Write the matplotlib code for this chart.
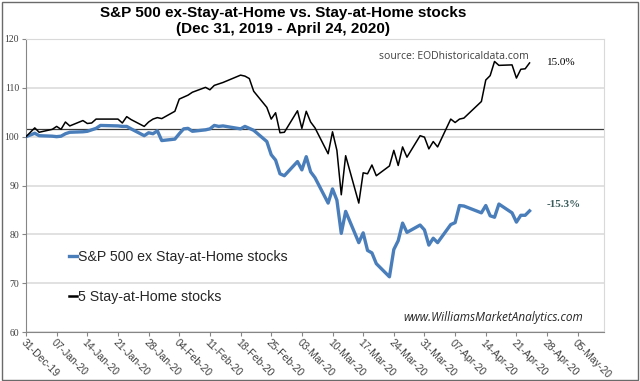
import matplotlib
matplotlib.use('Agg')
import matplotlib.pyplot as plt
import matplotlib.dates as mdates
from matplotlib.lines import Line2D
from matplotlib.patches import Rectangle
import pandas as pd

# trading days, Dec 31 2019 .. Apr 24 2020
trade_dates = ['2019-12-31',
    '2020-01-02', '2020-01-03', '2020-01-06', '2020-01-07', '2020-01-08', '2020-01-09',
    '2020-01-10', '2020-01-13', '2020-01-14', '2020-01-15', '2020-01-16', '2020-01-17',
    '2020-01-21', '2020-01-22', '2020-01-23', '2020-01-24', '2020-01-27', '2020-01-28',
    '2020-01-29', '2020-01-30', '2020-01-31',
    '2020-02-03', '2020-02-04', '2020-02-05', '2020-02-06', '2020-02-07', '2020-02-10',
    '2020-02-11', '2020-02-12', '2020-02-13', '2020-02-14', '2020-02-18', '2020-02-19',
    '2020-02-20', '2020-02-21', '2020-02-24', '2020-02-25', '2020-02-26', '2020-02-27',
    '2020-02-28',
    '2020-03-02', '2020-03-03', '2020-03-04', '2020-03-05', '2020-03-06', '2020-03-09',
    '2020-03-10', '2020-03-11', '2020-03-12', '2020-03-13', '2020-03-16', '2020-03-17',
    '2020-03-18', '2020-03-19', '2020-03-20', '2020-03-23', '2020-03-24', '2020-03-25',
    '2020-03-26', '2020-03-27', '2020-03-30', '2020-03-31',
    '2020-04-01', '2020-04-02', '2020-04-03', '2020-04-06', '2020-04-07', '2020-04-08',
    '2020-04-09', '2020-04-13', '2020-04-14', '2020-04-15', '2020-04-16', '2020-04-17',
    '2020-04-20', '2020-04-21', '2020-04-22', '2020-04-23', '2020-04-24']

sp500_ex = [100.0,
    100.7, 100.2, 100.1, 100.0, 100.1, 100.6, 100.9, 101.0, 101.1, 101.4, 101.7, 102.3,
    102.2, 102.1, 102.1, 101.6, 100.2, 100.8, 100.6, 101.2, 99.2,
    99.5, 100.6, 101.6, 101.7, 101.1, 101.4, 101.6, 102.3, 102.1, 102.2, 101.6, 102.1,
    101.7, 101.3, 99.0, 96.3, 95.2, 92.4, 92.0,
    94.9, 93.2, 95.9, 92.8, 91.6, 86.4, 89.3, 87.0, 80.2, 84.7, 78.3, 80.3,
    76.7, 76.2, 74.0, 71.3, 76.9, 78.7, 82.3, 80.4, 81.9, 80.9,
    77.8, 79.2, 78.3, 82.0, 82.4, 85.9, 85.8, 84.4, 85.9, 83.8, 83.5, 86.2,
    84.4, 82.5, 83.9, 83.9, 84.8]

stay_home = [100.0,
    101.8, 100.9, 101.5, 102.1, 101.5, 103.0, 102.2, 103.3, 102.7, 102.8, 103.6, 103.6,
    103.6, 102.8, 104.1, 103.5, 102.1, 103.0, 103.6, 103.9, 103.7,
    105.2, 107.7, 108.1, 108.5, 109.1, 110.1, 109.6, 110.5, 110.8, 111.1, 112.6, 112.4,
    111.9, 109.3, 106.0, 103.6, 104.9, 100.8, 100.9,
    105.3, 101.7, 105.2, 103.0, 101.8, 96.5, 101.0, 97.2, 88.1, 96.1, 86.4, 92.6,
    92.4, 94.2, 92.0, 94.0, 97.2, 94.1, 97.9, 95.8, 100.2, 99.9,
    97.5, 99.0, 97.9, 103.6, 102.9, 103.6, 103.8, 107.2, 111.6, 112.5, 115.4, 114.6,
    114.7, 112.0, 113.8, 113.9, 115.1]

ref_level = 101.6
y_ticks = [60, 70, 80, 90, 100, 110, 120]
labels = ['S&P 500 ex Stay-at-Home stocks', '5 Stay-at-Home stocks']
end_labels = ['15.0%', '-15.3%']

dates = pd.to_datetime(trade_dates)
week_ticks = pd.date_range('2019-12-31', '2020-05-05', freq='7D')

blue = '#4a7ebb'
fig = plt.figure(figsize=(6.4, 3.81), dpi=100)
fig.patch.set_facecolor('white')
ax = fig.add_axes([26 / 640, 49 / 381, 578 / 640, 293 / 381])

ax.plot(dates, sp500_ex, color=blue, lw=2.4, solid_joinstyle='round', zorder=3)
ax.plot(dates, stay_home, color='black', lw=1.1, zorder=3)
ax.axhline(ref_level, color='#3a3a3a', lw=0.9, zorder=2)

ax.set_xlim(pd.Timestamp('2019-12-31'), pd.Timestamp('2020-05-11'))
ax.set_ylim(60, 120)
ax.set_yticks(y_ticks)
ax.set_xticks(week_ticks)
ax.xaxis.set_major_formatter(mdates.DateFormatter('%d-%b-%y'))
ax.grid(axis='y', color='#d9d9d9', lw=1.1, zorder=0)
ax.set_axisbelow(True)

for s in ['top', 'right']:
    ax.spines[s].set_color('#d9d9d9')
for s in ['left', 'bottom']:
    ax.spines[s].set_color('#868686')
ax.tick_params(axis='both', direction='out', length=3, width=0.8, color='#868686')
ax.tick_params(axis='y', pad=2, labelsize=7, labelcolor='#404040')
ax.tick_params(axis='x', pad=1, labelsize=7.5, labelcolor='#404040')
for lab in ax.get_yticklabels():
    lab.set_fontfamily('Liberation Serif')
for lab in ax.get_xticklabels():
    lab.set_fontfamily('Liberation Sans')
    lab.set_rotation(-45)
    lab.set_ha('left')
    lab.set_va('top')
    lab.set_rotation_mode('anchor')

handles = [Line2D([], [], color=blue, lw=2.4), Line2D([], [], color='black', lw=1.8)]
leg = ax.legend(handles, labels, loc='upper left', bbox_to_anchor=(0.052, 0.325),
                frameon=False, handlelength=0.55, handletextpad=0.1, labelspacing=1.85,
                prop={'family': 'Liberation Sans', 'size': 10.2})
for t in leg.get_texts():
    t.set_color('#262626')

ax.text(pd.Timestamp('2020-04-28'), 115.1, end_labels[0], fontsize=8, family='Liberation Serif',
        color='black', va='center')
ax.text(pd.Timestamp('2020-04-28'), 86.2, end_labels[1], fontsize=8, family='Liberation Serif',
        color='#3b5b5b', va='center', fontweight='bold')
ax.text(0.61, 0.94, 'source: EODhistoricaldata.com', transform=ax.transAxes, fontsize=7.5,
        family='Open Sans', color='#404040', va='center')
ax.text(0.963, 0.05, 'www.WilliamsMarketAnalytics.com', transform=ax.transAxes, fontsize=8.5,
        family='Open Sans', style='italic', color='#262626', ha='right', va='center')

fig.text(0.442, 1 - 13 / 381, 'S&P 500 ex-Stay-at-Home vs. Stay-at-Home stocks',
         ha='center', va='center', fontsize=11, fontweight='bold', family='Liberation Sans')
fig.text(0.442, 1 - 29 / 381, '(Dec 31, 2019 - April 24, 2020)',
         ha='center', va='center', fontsize=11, fontweight='bold', family='Liberation Sans')

fig.patches.append(Rectangle((1.5 / 640, 1.5 / 381), 636 / 640, 377.5 / 381, transform=fig.transFigure,
                             fill=False, edgecolor='#6a6a6a', lw=1.0))

fig.savefig('out.png', dpi=100)
